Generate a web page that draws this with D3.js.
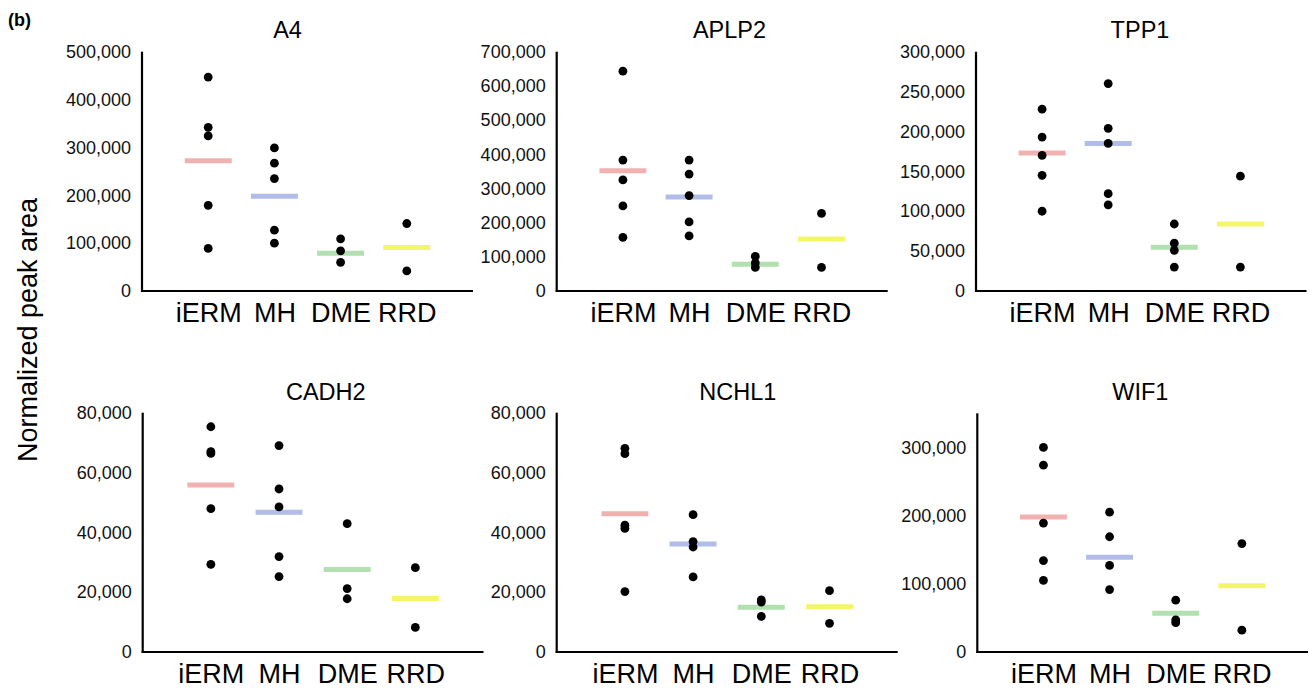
<!DOCTYPE html>
<html>
<head>
<meta charset="utf-8">
<script src="https://cdn.jsdelivr.net/npm/d3@7"></script>
<style>
  html, body { margin: 0; padding: 0; background: #fff; }
  svg { display: block; font-family: "Liberation Sans", Arial, sans-serif; }
</style>
</head>
<body>
<svg id="chart" width="1314" height="690"></svg>
<script>
// ---------- DATA ----------
const categories = ["iERM", "MH", "DME", "RRD"];
const panelTitles = ["A4", "APLP2", "TPP1", "CADH2", "NCHL1", "WIF1"];

const a4Points = [
  [447000, 342000, 324000, 179000, 89000],
  [299000, 267000, 235000, 127000, 100000],
  [109000, 84000, 60000],
  [141000, 42000]
];
const a4Means = [272000, 198000, 79000, 91000];
const a4Ticks = [0, 100000, 200000, 300000, 400000, 500000];

const aplp2Points = [
  [643000, 383000, 325000, 249000, 157000],
  [383000, 342000, 279000, 202000, 161000],
  [101000, 82000, 69000],
  [227000, 69000]
];
const aplp2Means = [352000, 275000, 78000, 152000];
const aplp2Ticks = [0, 100000, 200000, 300000, 400000, 500000, 600000, 700000];

const tpp1Points = [
  [228000, 193000, 170000, 145000, 100000],
  [260000, 204000, 185000, 122000, 108000],
  [84000, 60000, 51000, 30000],
  [144000, 30000]
];
const tpp1Means = [173000, 185000, 55000, 84000];
const tpp1Ticks = [0, 50000, 100000, 150000, 200000, 250000, 300000];

const cadh2Points = [
  [75300, 67000, 66400, 47900, 29300],
  [69000, 54500, 48500, 31900, 25200],
  [42900, 21200, 17800],
  [28200, 8200]
];
const cadh2Means = [55800, 46700, 27600, 17900];
const cadh2Ticks = [0, 20000, 40000, 60000, 80000];

const nchl1Points = [
  [68100, 66300, 42400, 41300, 20200],
  [45900, 36900, 35100, 25100],
  [17400, 16700, 11900],
  [20500, 9600]
];
const nchl1Means = [46200, 36100, 15000, 15100];
const nchl1Ticks = [0, 20000, 40000, 60000, 80000];

const wif1Points = [
  [300000, 274000, 189000, 134000, 105000],
  [205000, 169000, 127000, 91500],
  [76000, 47000, 43000],
  [159000, 32000]
];
const wif1Means = [198000, 139000, 57000, 97000];
const wif1Ticks = [0, 100000, 200000, 300000];

const yMaxima = [500000, 700000, 300000, 80000, 80000, 350000];
const groupColors = ["#f2b1b1", "#b1bde8", "#b2e0b0", "#f3f56a"];

const yAxisTitle = "Normalized peak area";
const panelLabel = "(b)";

// ---------- LAYOUT ----------
const layout = [
  { x0: 142,   x1: 473,   top: 51.7,  bottom: 291, titleX: 287.5,  titleY: 38 },
  { x0: 556.7, x1: 887.7, top: 51.7,  bottom: 291, titleX: 729.5,  titleY: 38 },
  { x0: 976,   x1: 1306.5,top: 51.7,  bottom: 291, titleX: 1140,   titleY: 38 },
  { x0: 142.7, x1: 483.5, top: 412.7, bottom: 652, titleX: 325.8,  titleY: 400 },
  { x0: 556.7, x1: 897.7, top: 412.7, bottom: 652, titleX: 737.8,  titleY: 400 },
  { x0: 977.3, x1: 1308,  top: 413.3, bottom: 652, titleX: 1140.3, titleY: 400 }
];

const panels = [
  { points: a4Points,    means: a4Means,    ticks: a4Ticks },
  { points: aplp2Points, means: aplp2Means, ticks: aplp2Ticks },
  { points: tpp1Points,  means: tpp1Means,  ticks: tpp1Ticks },
  { points: cadh2Points, means: cadh2Means, ticks: cadh2Ticks },
  { points: nchl1Points, means: nchl1Means, ticks: nchl1Ticks },
  { points: wif1Points,  means: wif1Means,  ticks: wif1Ticks }
];

const svg = d3.select("#chart");
const fmt = d3.format(",");

panels.forEach((p, i) => {
  const L = layout[i];
  const x = d3.scaleLinear().domain([0, categories.length + 1]).range([L.x0, L.x1]);
  const y = d3.scaleLinear().domain([0, yMaxima[i]]).range([L.bottom, L.top]);
  const g = svg.append("g");

  // title
  g.append("text")
    .attr("x", L.titleX).attr("y", L.titleY)
    .attr("text-anchor", "middle")
    .attr("font-size", 23.5)
    .attr("fill", "#000")
    .text(panelTitles[i]);

  // y axis (labels only + line)
  const yAxis = d3.axisLeft(y).tickValues(p.ticks).tickFormat(fmt).tickSize(0).tickPadding(11);
  const ya = g.append("g").attr("transform", `translate(${L.x0},0)`).call(yAxis);
  ya.select(".domain").remove();
  ya.selectAll("text").attr("font-size", 18).attr("fill", "#111")
    .attr("font-family", '"Liberation Sans", Arial, sans-serif');

  g.append("line")
    .attr("x1", L.x0).attr("x2", L.x0)
    .attr("y1", L.top).attr("y2", L.bottom + 1)
    .attr("stroke", "#000").attr("stroke-width", 2.2);

  // x axis
  const xAxis = d3.axisBottom(x)
    .tickValues(categories.map((c, k) => k + 1))
    .tickFormat((d) => categories[d - 1])
    .tickSize(0).tickPadding(12);
  const xa = g.append("g").attr("transform", `translate(0,${L.bottom})`).call(xAxis);
  xa.select(".domain").remove();
  xa.selectAll("text").attr("font-size", 27).attr("fill", "#000")
    .attr("font-family", '"Liberation Sans", Arial, sans-serif');

  g.append("line")
    .attr("x1", L.x0 - 1).attr("x2", L.x1)
    .attr("y1", L.bottom).attr("y2", L.bottom)
    .attr("stroke", "#000").attr("stroke-width", 2.2);

  // mean lines
  g.selectAll("line.mean").data(p.means).enter().append("line")
    .attr("class", "mean")
    .attr("x1", (d, k) => x(k + 1) - 23.5)
    .attr("x2", (d, k) => x(k + 1) + 23.5)
    .attr("y1", (d) => y(d)).attr("y2", (d) => y(d))
    .attr("stroke", (d, k) => groupColors[k])
    .attr("stroke-width", 5);

  // points
  const pts = [];
  p.points.forEach((arr, k) => arr.forEach((v) => pts.push({ k, v })));
  g.selectAll("circle").data(pts).enter().append("circle")
    .attr("cx", (d) => x(d.k + 1))
    .attr("cy", (d) => y(d.v))
    .attr("r", 4.4)
    .attr("fill", "#000");
});

// shared y title
svg.append("text")
  .attr("transform", "translate(36.5,330) rotate(-90)")
  .attr("text-anchor", "middle")
  .attr("font-size", 27)
  .attr("fill", "#000")
  .text(yAxisTitle);

// panel label
svg.append("text")
  .attr("x", 8).attr("y", 26)
  .attr("font-size", 18)
  .attr("font-weight", "bold")
  .attr("fill", "#000")
  .text(panelLabel);
</script>
</body>
</html>
